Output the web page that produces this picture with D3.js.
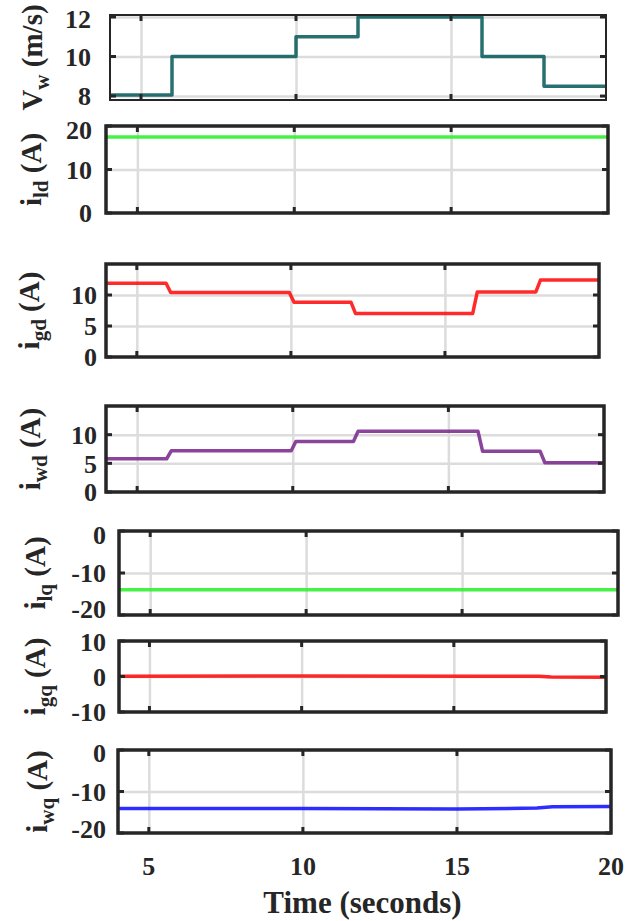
<!DOCTYPE html>
<meta charset="utf-8">
<script src="https://cdn.jsdelivr.net/npm/d3@7"></script>
<style>
body { margin: 0; background: #fff; }
text {
  font-family: "Liberation Serif", "Times New Roman", serif;
  font-weight: bold;
  fill: #262626;
}
.grid line { stroke: #dcdcdc; stroke-width: 2.5px; }
.grid path { display: none; }
.frame { fill: none; stroke: #262626; }
.ticks line { stroke: #262626; stroke-width: 3px; }
.series { fill: none; stroke-width: 3.5px; stroke-linejoin: round; }
</style>
<body>
<script>

// shared time axis
var timeDomain = [4, 20];
var timeTicks = [5, 10, 15, 20];

// wind speed (m/s)
var vwT   = [4, 6, 6, 10, 10, 12, 12, 16, 16, 18, 18, 20];
var vwVal = [8.05, 8.05, 10, 10, 11, 11, 12, 12, 10, 10, 8.5, 8.5];

// load d-axis current
var ildT   = [4, 20];
var ildVal = [17.5, 17.5];

// grid d-axis current
var igdT   = [4, 5.95, 6.1, 9.95, 10.1, 11.95, 12.1, 15.9, 16.05, 17.95, 18.1, 20];
var igdVal = [11.9, 11.9, 10.4, 10.4, 8.85, 8.85, 7.0, 7.0, 10.5, 10.5, 12.4, 12.4];

// wind d-axis current
var iwdT   = [4, 5.95, 6.1, 9.95, 10.1, 11.95, 12.1, 15.95, 16.1, 17.95, 18.1, 20];
var iwdVal = [5.8, 5.8, 7.2, 7.2, 8.8, 8.8, 10.6, 10.6, 7.1, 7.1, 5.1, 5.1];

// q-axis currents
var ilqT   = [4, 20];
var ilqVal = [-14, -14];
var igqT   = [4, 10, 16, 17.8, 18.2, 20];
var igqVal = [0.1, 0.15, 0.1, 0.05, -0.15, -0.2];
var iwqT   = [4, 10, 15, 17.6, 18.1, 20];
var iwqVal = [-14.1, -14.1, -14.2, -14.0, -13.7, -13.6];

// layout: box = [left, top, right, bottom], nudge = [bottom label shift, top label shift]
var panels = [
  {lab: ["V", "w", " (m/s)"], t: vwT,  v: vwVal,  dom: [7.8, 12.1], ticks: [8, 10, 12],
   color: "#0a5c5c", box: [110, 15, 606, 100], gap: 19, lx: 32, fw: 2, nudge: [0, 2]},
  {lab: ["i", "ld", " (A)"], t: ildT, v: ildVal, dom: [0, 20], ticks: [0, 10, 20],
   color: "#2ef02e", box: [106, 126, 608, 213], gap: 14, lx: 31, fw: 3.5, nudge: [0, 4]},
  {lab: ["i", "gd", " (A)"], t: igdT, v: igdVal, dom: [0, 15], ticks: [0, 5, 10],
   color: "#ff0d0d", box: [106, 264, 599, 357], gap: 9, lx: 29, fw: 3.5, nudge: [0, 0]},
  {lab: ["i", "wd", " (A)"], t: iwdT, v: iwdVal, dom: [0, 15], ticks: [0, 5, 10],
   color: "#7a2a8c", box: [106, 406, 604, 492], gap: 9, lx: 30, fw: 3.5, nudge: [0, 0]},
  {lab: ["i", "lq", " (A)"], t: ilqT, v: ilqVal, dom: [-20, 0], ticks: [-20, -10, 0],
   color: "#2ef02e", box: [119, 531, 618, 615], gap: 13, lx: 35, fw: 3.5, nudge: [-6, 4]},
  {lab: ["i", "gq", " (A)"], t: igqT, v: igqVal, dom: [-10, 10], ticks: [-10, 0, 10],
   color: "#ff0d0d", box: [119, 641, 606, 712], gap: 13, lx: 35, fw: 3.5, nudge: [0, 1]},
  {lab: ["i", "wq", " (A)"], t: iwqT, v: iwqVal, dom: [-20, 0], ticks: [-20, -10, 0],
   color: "#1010ff", box: [118, 750, 611, 833], gap: 12, lx: 37, fw: 3.5, nudge: [-4, 3]}
];

var width = 638, height = 921;

var svg = d3.select("body").append("svg")
    .attr("width", width)
    .attr("height", height);

panels.forEach(function(p, i) {
  var l = p.box[0], t = p.box[1], r = p.box[2], b = p.box[3];
  var x = d3.scaleLinear().domain(timeDomain).range([l, r]);
  var y = d3.scaleLinear().domain(p.dom).range([b, t]);
  var g = svg.append("g");

  // grid
  g.append("g").attr("class", "grid")
      .attr("transform", "translate(0," + b + ")")
      .call(d3.axisBottom(x).tickValues(timeTicks.filter(function(d) { return d < timeDomain[1]; }))
        .tickSize(-(b - t)).tickFormat(""));
  g.append("g").attr("class", "grid")
      .attr("transform", "translate(" + l + ",0)")
      .call(d3.axisLeft(y).tickValues(p.ticks.filter(function(d) { return d > p.dom[0] && d < p.dom[1]; }))
        .tickSize(-(r - l)).tickFormat(""));

  // data
  var pts = p.t.map(function(d, k) { return [d, p.v[k]]; });
  g.append("path")
      .attr("class", "series")
      .attr("d", d3.line().x(function(d) { return x(d[0]); }).y(function(d) { return y(d[1]); })(pts))
      .style("stroke", p.color)
      .style("stroke-opacity", 0.88);

  // inward tick marks
  var tk = g.append("g").attr("class", "ticks");
  timeTicks.filter(function(d) { return d < timeDomain[1]; }).forEach(function(d) {
    tk.append("line").attr("x1", x(d)).attr("x2", x(d)).attr("y1", b).attr("y2", b - 6);
    tk.append("line").attr("x1", x(d)).attr("x2", x(d)).attr("y1", t).attr("y2", t + 6);
  });
  p.ticks.forEach(function(d) {
    tk.append("line").attr("x1", l).attr("x2", l + 6).attr("y1", y(d)).attr("y2", y(d));
    tk.append("line").attr("x1", r).attr("x2", r - 6).attr("y1", y(d)).attr("y2", y(d));
  });

  // frame
  g.append("rect").attr("class", "frame")
      .attr("x", l).attr("y", t)
      .attr("width", r - l).attr("height", b - t)
      .style("stroke-width", p.fw);

  // y tick labels
  var last = p.ticks.length - 1;
  g.selectAll(".ylab").data(p.ticks).enter().append("text")
      .attr("x", l - p.gap)
      .attr("y", function(d, k) {
        var off = k == 0 ? p.nudge[0] : (k == last ? p.nudge[1] : 0);
        return y(d) + off;
      })
      .attr("dy", "0.36em")
      .attr("text-anchor", "end")
      .style("font-size", "26px")
      .text(function(d) { return String(d); });

  // y axis label with subscript
  var lab = g.append("text")
      .attr("transform", "translate(" + p.lx + "," + ((t + b) / 2) + ") rotate(-90)")
      .attr("text-anchor", "middle")
      .attr("dy", "0.35em")
      .style("font-size", "29px");
  lab.append("tspan").text(p.lab[0]);
  lab.append("tspan").attr("dy", 7).style("font-size", "21px").text(p.lab[1]);
  lab.append("tspan").attr("dy", -7).text(p.lab[2]);

  // x tick labels on last panel only
  if (i == panels.length - 1) {
    g.selectAll(".xlab").data(timeTicks).enter().append("text")
        .attr("x", function(d) { return x(d); })
        .attr("y", b + 42)
        .attr("text-anchor", "middle")
        .style("font-size", "26px")
        .text(function(d) { return d; });
    g.append("text")
        .attr("x", (l + r) / 2 - 2)
        .attr("y", b + 80)
        .attr("text-anchor", "middle")
        .style("font-size", "31px")
        .text("Time (seconds)");
  }
});

</script>
</body>
